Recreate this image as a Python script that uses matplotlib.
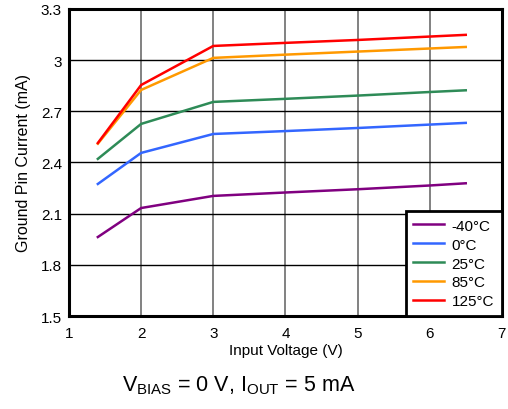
import matplotlib
matplotlib.use("Agg")
import matplotlib.pyplot as plt

plt.rcParams['font.family'] = ['Liberation Sans', 'DejaVu Sans']

vin = [1.4, 2, 3, 4, 5, 6, 6.5]
labels = ['-40°C', '0°C', '25°C', '85°C', '125°C']
i_m40 = [1.963, 2.133, 2.204, 2.224, 2.243, 2.265, 2.278]
i_0 = [2.274, 2.456, 2.567, 2.584, 2.602, 2.622, 2.632]
i_25 = [2.421, 2.626, 2.755, 2.773, 2.792, 2.813, 2.823]
i_85 = [2.510, 2.825, 3.013, 3.032, 3.050, 3.068, 3.077]
i_125 = [2.514, 2.854, 3.083, 3.101, 3.118, 3.138, 3.148]
series = [i_m40, i_0, i_25, i_85, i_125]
colors = ['#800080', '#3366FF', '#2E8B57', '#FF9900', '#FF0000']

xticks = [1, 2, 3, 4, 5, 6, 7]
yticks = [1.5, 1.8, 2.1, 2.4, 2.7, 3.0, 3.3]
yticklabels = ['1.5', '1.8', '2.1', '2.4', '2.7', '3', '3.3']

fig = plt.figure(figsize=(5.08, 4.10), dpi=100)
ax = fig.add_axes([0.1358, 0.2268, 0.852, 0.749])
for ys, c, lab in zip(series, colors, labels):
    ax.plot(vin, ys, color=c, lw=1.8, label=lab, zorder=3)

ax.set_xlim(1, 7)
ax.set_ylim(1.5, 3.3)
ax.set_xticks(xticks)
ax.set_yticks(yticks)
ax.set_yticklabels(yticklabels)
ax.tick_params(length=0, labelsize=11)
ax.tick_params(axis='x', pad=7)
ax.tick_params(axis='y', pad=5)
ax.xaxis.grid(True, color='#777777', lw=1.3)
ax.yaxis.grid(True, color='black', lw=1.0)
for s in ax.spines.values():
    s.set_linewidth(2.2)
ax.set_xlabel('Input Voltage (V)', fontsize=11, labelpad=2)
ax.set_ylabel('Ground Pin Current (mA)', fontsize=11.5, labelpad=7)

leg = ax.legend(loc='lower right', fontsize=11, frameon=True, fancybox=False,
                borderaxespad=0, handlelength=2.0, labelspacing=0.32,
                borderpad=0.5, handletextpad=0.5)
leg.get_frame().set_edgecolor('black')
leg.get_frame().set_linewidth(2.0)
leg.get_frame().set_alpha(1)

fig.text(0.47, 0.06, r'V$_{\mathregular{BIAS}}$ = 0 V, I$_{\mathregular{OUT}}$ = 5 mA',
         ha='center', va='center', fontsize=15.5)

fig.savefig('out.png', dpi=100)
